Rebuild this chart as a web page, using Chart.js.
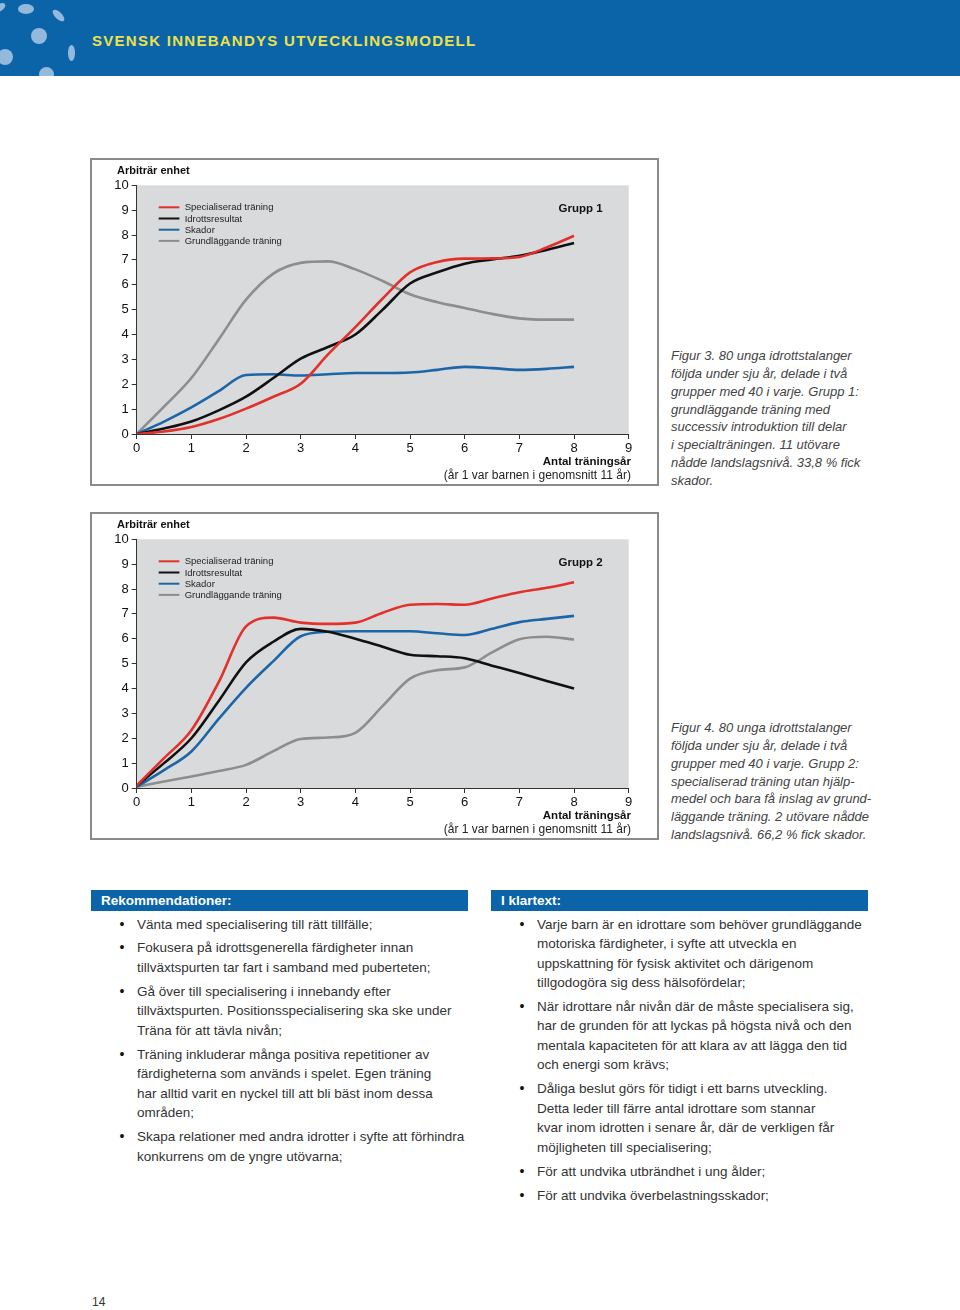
<!DOCTYPE html>
<html>
<head>
<meta charset="utf-8">
<script src="https://cdn.jsdelivr.net/npm/chart.js@4.4.1/dist/chart.umd.min.js"></script>
<style>
  body { margin: 0; width: 960px; height: 1310px; position: relative; background: #fff; overflow: hidden;
         font-family: "Liberation Sans", Arial, sans-serif; color: #333; }
  .hdr { position: absolute; left: 0; top: 0; width: 960px; height: 76px; background: #0b63a8; overflow: hidden; }
  .dot { position: absolute; background: #93badc; border-radius: 50%; }
  .title { position: absolute; left: 92px; top: 32px; font-size: 15px; font-weight: bold; letter-spacing: 1.27px;
           color: #ebe24a; line-height: 18px; white-space: nowrap; }
  .frame { position: absolute; left: 90px; width: 565px; height: 324px; border: 2px solid #8a8a8a; pointer-events: none; }
  .plot { position: absolute; left: 90px; }
  .lbl { position: absolute; white-space: nowrap; color: #111; }
  .ylab { left: 117px; font-size: 11px; font-weight: bold; line-height: 13px; }
  .xlab { right: 329px; font-size: 11.5px; font-weight: bold; line-height: 14px; text-align: right; }
  .xsub { right: 329px; font-size: 12px; line-height: 14px; text-align: right; color: #222; }
  .cap { position: absolute; left: 671px; font-size: 13px; font-style: italic; line-height: 17.85px; color: #444; white-space: nowrap; }
  .box { position: absolute; top: 890px; width: 377px; }
  .box h3 { margin: 0; height: 21px; line-height: 21px; background: #0b63a8; color: #fff; font-size: 13.5px;
            font-weight: bold; padding-left: 10px; }
  .box ul { list-style: none; margin: 3.5px 0 0 0; padding: 0; }
  .box li { position: relative; padding-left: 46px; font-size: 13.5px; line-height: 19.5px; margin-bottom: 4.4px;
            white-space: nowrap; color: #333; }
  .box li::before { content: "\2022"; position: absolute; left: 28.5px; top: 0; color: #111; font-size: 14px; }
  .pnum { position: absolute; left: 92px; top: 1295px; font-size: 12px; color: #333; }
</style>
</head>
<body>
<div class="hdr">
  <div class="dot" style="left:-6px;top:4px;width:12px;height:7px;transform:rotate(-35deg)"></div>
  <div class="dot" style="left:18px;top:4px;width:16px;height:10px"></div>
  <div class="dot" style="left:51px;top:12px;width:15px;height:7px;transform:rotate(45deg)"></div>
  <div class="dot" style="left:31px;top:28px;width:16px;height:16px"></div>
  <div class="dot" style="left:-3px;top:49px;width:16px;height:16px"></div>
  <div class="dot" style="left:68px;top:45px;width:7px;height:16px"></div>
  <div class="dot" style="left:39px;top:67px;width:15px;height:15px"></div>
  <div class="title">SVENSK INNEBANDYS UTVECKLINGSMODELL</div>
</div>

<!-- Figur 3 -->
<div class="plot" style="top:158px"><canvas id="chart1" width="569" height="328"></canvas></div>
<div class="frame" style="top:158px"></div>
<div class="lbl ylab" style="top:164px">Arbiträr enhet</div>
<div class="lbl xlab" style="top:454px">Antal träningsår</div>
<div class="lbl xsub" style="top:468px">(år 1 var barnen i genomsnitt 11 år)</div>
<div class="cap" style="top:347px">Figur 3. 80 unga idrottstalanger<br>följda under sju år, delade i två<br>grupper med 40 i varje. Grupp 1:<br>grundläggande träning med<br>successiv introduktion till delar<br>i specialträningen. 11 utövare<br>nådde landslagsnivå. 33,8 % fick<br>skador.</div>

<!-- Figur 4 -->
<div class="plot" style="top:512px"><canvas id="chart2" width="569" height="328"></canvas></div>
<div class="frame" style="top:512px"></div>
<div class="lbl ylab" style="top:518px">Arbiträr enhet</div>
<div class="lbl xlab" style="top:808px">Antal träningsår</div>
<div class="lbl xsub" style="top:822px">(år 1 var barnen i genomsnitt 11 år)</div>
<div class="cap" style="top:719px">Figur 4. 80 unga idrottstalanger<br>följda under sju år, delade i två<br>grupper med 40 i varje. Grupp 2:<br>specialiserad träning utan hjälp-<br>medel och bara få inslag av grund-<br>läggande träning. 2 utövare nådde<br>landslagsnivå. 66,2 % fick skador.</div>

<div class="box" style="left:91px">
  <h3>Rekommendationer:</h3>
  <ul>
    <li>Vänta med specialisering till rätt tillfälle;</li>
    <li>Fokusera på idrottsgenerella färdigheter innan<br>tillväxtspurten tar fart i samband med puberteten;</li>
    <li>Gå över till specialisering i innebandy efter<br>tillväxtspurten. Positionsspecialisering ska ske under<br>Träna för att tävla nivån;</li>
    <li>Träning inkluderar många positiva repetitioner av<br>färdigheterna som används i spelet. Egen träning<br>har alltid varit en nyckel till att bli bäst inom dessa<br>områden;</li>
    <li>Skapa relationer med andra idrotter i syfte att förhindra<br>konkurrens om de yngre utövarna;</li>
  </ul>
</div>

<div class="box" style="left:491px">
  <h3>I klartext:</h3>
  <ul>
    <li>Varje barn är en idrottare som behöver grundläggande<br>motoriska färdigheter, i syfte att utveckla en<br>uppskattning för fysisk aktivitet och därigenom<br>tillgodogöra sig dess hälsofördelar;</li>
    <li>När idrottare når nivån där de måste specialisera sig,<br>har de grunden för att lyckas på högsta nivå och den<br>mentala kapaciteten för att klara av att lägga den tid<br>och energi som krävs;</li>
    <li>Dåliga beslut görs för tidigt i ett barns utveckling.<br>Detta leder till färre antal idrottare som stannar<br>kvar inom idrotten i senare år, där de verkligen får<br>möjligheten till specialisering;</li>
    <li>För att undvika utbrändhet i ung ålder;</li>
    <li>För att undvika överbelastningsskador;</li>
  </ul>
</div>

<div class="pnum">14</div>

<script>
// år (halvårssteg)
const years = [0, 0.5, 1, 1.5, 2, 2.5, 3, 3.5, 4, 4.5, 5, 5.5, 6, 6.5, 7, 7.5, 8];
const seriesNames = ['Specialiserad träning', 'Idrottsresultat', 'Skador', 'Grundläggande träning'];
const seriesColors = ['#e2302a', '#111111', '#1c66a7', '#8d8d8d'];

// Grupp 1
const g1Spec   = [0, 0.1, 0.28, 0.6, 1.02, 1.5, 2.02, 3.2, 4.3, 5.45, 6.5, 6.92, 7.05, 7.06, 7.12, 7.5, 7.97];
const g1Result = [0, 0.22, 0.5, 0.95, 1.5, 2.25, 3.03, 3.5, 4.0, 5.0, 6.05, 6.5, 6.85, 7.02, 7.17, 7.4, 7.68];
const g1Injury = [0, 0.5, 1.07, 1.72, 2.37, 2.4, 2.35, 2.4, 2.45, 2.45, 2.47, 2.58, 2.7, 2.65, 2.58, 2.62, 2.7];
const g1Basic  = [0, 1.1, 2.25, 3.8, 5.4, 6.45, 6.88, 6.94, 6.62, 6.15, 5.62, 5.3, 5.07, 4.83, 4.65, 4.6, 4.6];

// Grupp 2
const g2Spec   = [0.1, 1.2, 2.32, 4.26, 6.5, 6.85, 6.65, 6.6, 6.65, 7.05, 7.37, 7.4, 7.37, 7.62, 7.87, 8.05, 8.27];
const g2Result = [0.1, 1.0, 2.0, 3.5, 5.05, 5.88, 6.4, 6.28, 6.0, 5.68, 5.36, 5.3, 5.22, 4.92, 4.62, 4.3, 4.0];
const g2Injury = [0.05, 0.72, 1.47, 2.78, 4.03, 5.1, 6.1, 6.28, 6.3, 6.3, 6.3, 6.22, 6.15, 6.4, 6.67, 6.8, 6.92];
const g2Basic  = [0.05, 0.26, 0.46, 0.68, 0.93, 1.48, 1.97, 2.03, 2.22, 3.3, 4.4, 4.74, 4.85, 5.45, 5.98, 6.08, 5.97];

const xMax = 9;
const yMax = 10;

// grå plotyta, legend och gruppnamn
const paperPlugin = {
  id: 'paper',
  beforeDraw(chart) {
    const { ctx, chartArea: a } = chart;
    ctx.save();
    ctx.fillStyle = '#d9dadc';
    ctx.fillRect(a.left, a.top, a.right - a.left, a.bottom - a.top);
    ctx.restore();
  },
  afterDraw(chart, args, opts) {
    const { ctx, chartArea: a } = chart;
    ctx.save();
    ctx.font = '9.5px "Liberation Sans", Arial, sans-serif';
    ctx.textBaseline = 'middle';
    chart.data.datasets.forEach((ds, i) => {
      const y = a.top + 22 + i * 11.2;
      ctx.strokeStyle = ds.borderColor;
      ctx.lineWidth = 2;
      ctx.beginPath();
      ctx.moveTo(a.left + 22, y);
      ctx.lineTo(a.left + 42.7, y);
      ctx.stroke();
      ctx.fillStyle = '#222';
      ctx.fillText(ds.label, a.left + 48, y + 0.5);
    });
    ctx.font = 'bold 11.5px "Liberation Sans", Arial, sans-serif';
    ctx.fillStyle = '#111';
    ctx.textAlign = 'right';
    ctx.fillText(opts.group, a.left + 466, a.top + 23.5);
    ctx.restore();
  }
};

function makeChart(id, group, values) {
  const datasets = values.map((arr, i) => ({
    label: seriesNames[i],
    data: years.map((x, k) => ({ x: x, y: arr[k] })),
    borderColor: seriesColors[i],
    borderWidth: 2.6,
    pointRadius: 0,
    cubicInterpolationMode: 'monotone',
    fill: false,
    order: i
  }));

  return new Chart(document.getElementById(id), {
    type: 'line',
    data: { datasets: datasets },
    plugins: [paperPlugin],
    options: {
      responsive: false,
      animation: false,
      layout: { padding: { top: 27.3, right: 30.3, left: 0, bottom: 0 } },
      plugins: {
        legend: { display: false },
        tooltip: { enabled: false },
        paper: { group: group }
      },
      scales: {
        x: {
          type: 'linear', min: 0, max: xMax,
          ticks: { stepSize: 1, color: '#111', padding: 1.5, font: { size: 13, family: '"Liberation Sans", Arial, sans-serif' } },
          grid: { drawOnChartArea: false, drawTicks: true, tickLength: 5, tickColor: '#333' },
          border: { color: '#333', width: 1 },
          afterFit(scale) { scale.height = 52; }
        },
        y: {
          type: 'linear', min: 0, max: yMax,
          ticks: { stepSize: 1, color: '#111', padding: 3, font: { size: 13, family: '"Liberation Sans", Arial, sans-serif' } },
          grid: { drawOnChartArea: false, drawTicks: true, tickLength: 5, tickColor: '#333' },
          border: { color: '#333', width: 1 },
          afterFit(scale) { scale.width = 46.7; }
        }
      }
    }
  });
}

makeChart('chart1', 'Grupp 1', [g1Spec, g1Result, g1Injury, g1Basic]);
makeChart('chart2', 'Grupp 2', [g2Spec, g2Result, g2Injury, g2Basic]);
</script>
</body>
</html>
